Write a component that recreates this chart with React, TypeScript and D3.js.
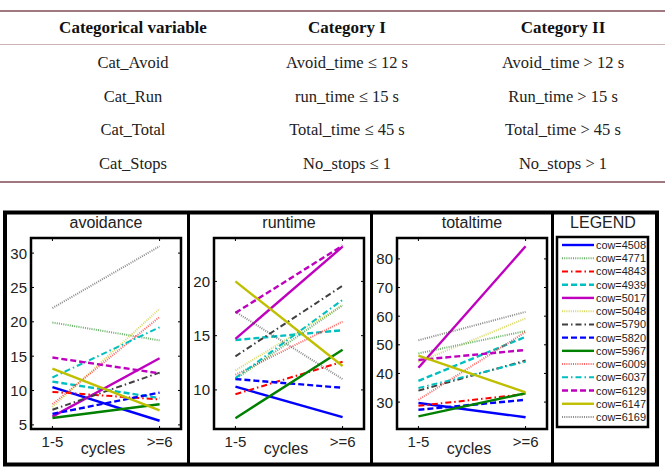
import * as d3 from "d3";

// table contents
const tableHead = ["Categorical variable", "Category I", "Category II"];
const tableVars = ["Cat_Avoid", "Cat_Run", "Cat_Total", "Cat_Stops"];
const tableCat1 = ["Avoid_time ≤ 12 s", "run_time ≤ 15 s", "Total_time ≤ 45 s", "No_stops ≤ 1"];
const tableCat2 = ["Avoid_time > 12 s", "Run_time > 15 s", "Total_time > 45 s", "No_stops > 1"];

// chart data: one [cycles 1-5, cycles >=6] pair per cow
const cycles = ["1-5", ">=6"];
const cows = ["4508", "4771", "4843", "4939", "5017", "5048", "5790", "5820", "5967", "6009", "6037", "6129", "6147", "6169"];

const avoidance = [
  [10.5, 5.6], [19.9, 17.3], [9.8, 8.7], [11.3, 8.9], [6.2, 14.7], [7.6, 21.9], [7.2, 12.6],
  [6.6, 9.7], [6.0, 8.0], [8.0, 20.7], [11.9, 19.2], [14.8, 12.5], [13.2, 7.1], [22.0, 31.0],
];
const runtime = [
  [10.3, 7.5], [11.0, 17.8], [9.6, 12.6], [14.6, 15.5], [14.7, 23.2], [11.8, 17.8], [13.1, 19.6],
  [11.0, 10.2], [7.4, 13.7], [11.4, 16.3], [11.1, 18.3], [17.1, 23.3], [20.0, 12.2], [17.2, 11.0],
];
const totaltime = [
  [29.7, 24.7], [47.0, 54.8], [28.7, 32.8], [37.4, 52.8], [42.0, 84.4], [44.0, 59.2], [34.0, 44.5],
  [27.3, 30.8], [25.0, 33.1], [30.8, 54.5], [34.9, 44.1], [44.7, 48.2], [46.2, 33.4], [51.6, 61.5],
];

const avoidTicks = [5, 10, 15, 20, 25, 30];
const runTicks = [10, 15, 20];
const totalTicks = [30, 40, 50, 60, 70, 80];

// MATLAB-like colour / line style cycle
const colors = ["#0000ff", "#008000", "#ff0000", "#00bfbf", "#bf00bf", "#bfbf00", "#404040"];
const styles = ["solid", "dotted", "dashdot", "dashed"];

function lineStyle(i: number) {
  const color = colors[i % colors.length];
  const s = styles[i % styles.length];
  if (s === "dotted") return { color, dash: "1 1.2", width: 2, opacity: 0.6 };
  if (s === "dashed") return { color, dash: "6 3", width: 2.4, opacity: 1 };
  if (s === "dashdot") return { color, dash: "6 3 1.5 3", width: 2, opacity: 1 };
  return { color, dash: undefined, width: 2.4, opacity: 1 };
}

const SANS = "Liberation Sans, Arial, sans-serif";
const SERIF = "Liberation Serif, Times New Roman, serif";

const top = 238;
const bottom = 429;

function Panel({
  title,
  left,
  data,
  domain,
  ticks,
}: {
  title: string;
  left: number;
  data: number[][];
  domain: [number, number];
  ticks: number[];
}) {
  const w = 150;
  const x = d3.scaleLinear().domain([0.8, 2.2]).range([left, left + w]);
  const y = d3.scaleLinear().domain(domain).range([bottom, top]);
  const line = d3
    .line<number>()
    .x((_, i) => x(i + 1))
    .y((d) => y(d));

  return (
    <g>
      <text x={left + w / 2} y={228} textAnchor="middle" fontSize={16} fontFamily={SANS} fill="#222">
        {title}
      </text>
      {/* series, drawn back to front */}
      {data.map((d, i) => {
        const st = lineStyle(i);
        return (
          <path
            key={cows[i]}
            d={line(d) ?? ""}
            fill="none"
            stroke={st.color}
            strokeWidth={st.width}
            strokeDasharray={st.dash}
            opacity={st.opacity}
          />
        );
      })}
      <rect x={left} y={top} width={w} height={bottom - top} fill="none" stroke="#000" strokeWidth={2.5} />
      {/* y ticks on both sides */}
      {ticks.map((t) => (
        <g key={`yt-${t}`}>
          <line x1={left} x2={left + 3} y1={y(t)} y2={y(t)} stroke="#000" strokeWidth={1} />
          <line x1={left + w - 3} x2={left + w} y1={y(t)} y2={y(t)} stroke="#000" strokeWidth={1} />
          <text x={left - 4} y={y(t) + 5.5} textAnchor="end" fontSize={15} fontFamily={SANS} fill="#222">
            {t}
          </text>
        </g>
      ))}
      {cycles.map((c, i) => (
        <g key={`xt-${c}`}>
          <line x1={x(i + 1)} x2={x(i + 1)} y1={bottom} y2={bottom - 3} stroke="#000" strokeWidth={1} />
          <line x1={x(i + 1)} x2={x(i + 1)} y1={top} y2={top + 3} stroke="#000" strokeWidth={1} />
          <text x={x(i + 1)} y={447} textAnchor="middle" fontSize={15} fontFamily={SANS} fill="#222">
            {c}
          </text>
        </g>
      ))}
      <text x={left + w / 2 - 3} y={454} textAnchor="middle" fontSize={16} fontFamily={SANS} fill="#222">
        cycles
      </text>
    </g>
  );
}

function Legend() {
  const lx = 557;
  const lw = 91;
  const rowY = d3.scaleLinear().domain([0, cows.length - 1]).range([245, 417]);
  return (
    <g>
      <text x={603} y={228} textAnchor="middle" fontSize={16} fontFamily={SANS} fill="#222">
        LEGEND
      </text>
      <rect x={lx} y={237} width={lw} height={190} fill="#fff" stroke="#000" strokeWidth={2.5} />
      {cows.map((c, i) => {
        const st = lineStyle(i);
        return (
          <g key={c}>
            <line
              x1={562}
              x2={594}
              y1={rowY(i)}
              y2={rowY(i)}
              stroke={st.color}
              strokeWidth={st.width}
              strokeDasharray={st.dash}
              opacity={st.opacity}
            />
            <text x={596} y={rowY(i) + 4} fontSize={11} fontFamily={SANS} fill="#222" textLength={50} lengthAdjust="spacingAndGlyphs">
              cow={c}
            </text>
          </g>
        );
      })}
    </g>
  );
}

export default function App() {
  const colX = [133, 347, 563];
  const rowYs = [68, 102, 135, 169];
  return (
    <svg width={665} height={472} style={{ position: "absolute", left: 0, top: 0, background: "#fff" }}>
      {/* table */}
      <line x1={0} x2={665} y1={11} y2={11} stroke="#a27880" strokeWidth={2} />
      <line x1={0} x2={665} y1={44.5} y2={44.5} stroke="#cdb2b6" strokeWidth={1} />
      <line x1={0} x2={665} y1={182} y2={182} stroke="#a27880" strokeWidth={2} />
      {tableHead.map((h, i) => (
        <text key={h} x={colX[i]} y={33} textAnchor="middle" fontSize={17} fontWeight="bold" fontFamily={SERIF} fill="#111">
          {h}
        </text>
      ))}
      {tableVars.map((v, r) => (
        <g key={v}>
          {[v, tableCat1[r], tableCat2[r]].map((t, i) => (
            <text key={i} x={colX[i]} y={rowYs[r]} textAnchor="middle" fontSize={16.5} fontFamily={SERIF} fill="#222">
              {t}
            </text>
          ))}
        </g>
      ))}

      {/* figure frame */}
      <rect x={5} y={212.5} width={652} height={252} fill="#fff" stroke="#000" strokeWidth={4} />
      {[188.5, 371.5, 552.5].map((d) => (
        <line key={d} x1={d} x2={d} y1={212} y2={465} stroke="#000" strokeWidth={3} />
      ))}

      <Panel title="avoidance" left={31} data={avoidance} domain={[4.4, 32.2]} ticks={avoidTicks} />
      <Panel title="runtime" left={214} data={runtime} domain={[6.4, 24.0]} ticks={runTicks} />
      <Panel title="totaltime" left={397} data={totaltime} domain={[20.6, 87.3]} ticks={totalTicks} />
      <Legend />
    </svg>
  );
}
